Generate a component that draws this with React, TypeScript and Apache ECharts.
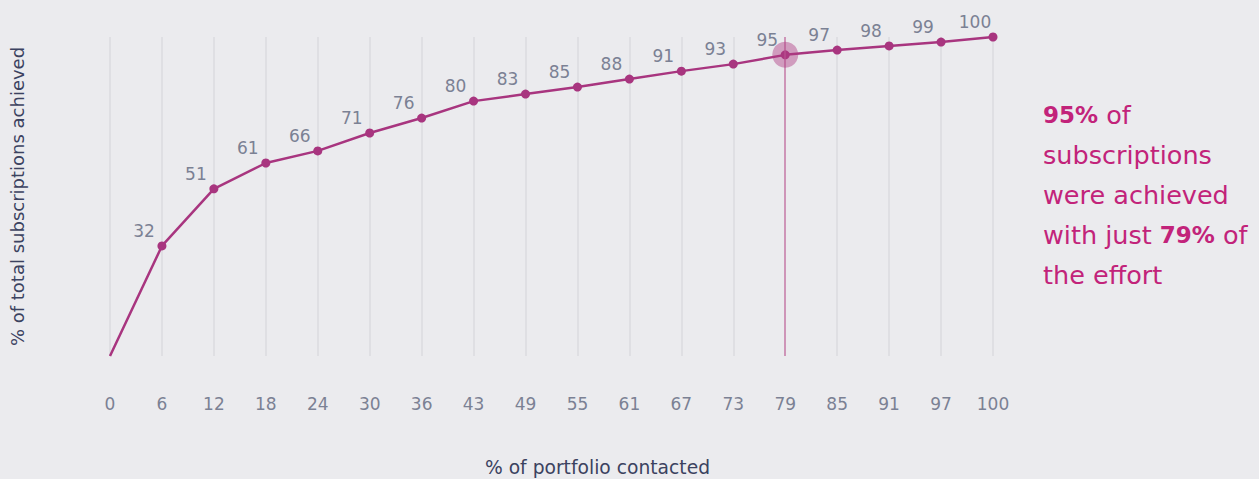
import React, { useEffect, useRef } from "react";
import * as echarts from "echarts";

const categories = ["0", "6", "12", "18", "24", "30", "36", "43", "49", "55", "61", "67", "73", "79", "85", "91", "97", "100"];
const values = [0, 34.5, 52.4, 60.5, 64.3, 69.9, 74.6, 79.9, 82.1, 84.3, 86.8, 89.3, 91.5, 94.4, 95.9, 97.2, 98.4, 100];
const pointLabels = ["", "32", "51", "61", "66", "71", "76", "80", "83", "85", "88", "91", "93", "95", "97", "98", "99", "100"];
const highlightCategory = "79";
const highlightIndex = 13;

const FONT = "'DejaVu Sans', sans-serif";
const LINE = "#a8357f";
const GRAY = "#7b8194";
const DARK = "#3b4260";
const MAGENTA = "#c2237a";

export default function App() {
  const ref = useRef<HTMLDivElement>(null);
  useEffect(() => {
    if (!ref.current) return;
    const chart = echarts.init(ref.current, null, { renderer: "svg" });
    chart.setOption({
      animation: false,
      backgroundColor: "#ebebee",
      textStyle: { fontFamily: FONT },
      grid: { left: 110, right: 266, top: 37, bottom: 123, containLabel: false, outerBoundsMode: "none" },
      xAxis: {
        type: "category",
        data: categories,
        boundaryGap: false,
        axisLine: { show: false },
        axisTick: { show: false },
        axisLabel: { color: GRAY, fontSize: 17, margin: 39, fontFamily: FONT },
        splitLine: { show: true, lineStyle: { color: "#dfdfe3", width: 2 } },
        name: "% of portfolio contacted",
        nameLocation: "middle",
        nameGap: 102,
        nameTextStyle: { color: DARK, fontSize: 18.7, fontFamily: FONT, padding: [0, 0, 0, 92] },
      },
      yAxis: {
        type: "value",
        min: 0,
        max: 100,
        axisLine: { show: false },
        axisTick: { show: false },
        axisLabel: { show: false },
        splitLine: { show: false },
        name: "% of total subscriptions achieved",
        nameLocation: "middle",
        nameGap: 84,
        nameRotate: 90,
        nameTextStyle: { color: DARK, fontSize: 18, fontFamily: FONT },
      },
      series: [
        {
          type: "line",
          data: values.map((v, i) => ({
            value: v,
            symbolSize: i === 0 ? 0 : 9,
            label: { formatter: pointLabels[i] },
          })),
          symbol: "circle",
          lineStyle: { color: LINE, width: 2.5 },
          itemStyle: { color: LINE },
          label: {
            show: true,
            position: "top",
            offset: [-18, 3],
            color: GRAY,
            fontSize: 17,
            fontFamily: FONT,
          },
          markLine: {
            silent: true,
            symbol: "none",
            label: { show: false },
            lineStyle: { color: "rgba(195,100,155,0.6)", width: 2, type: "solid" },
            data: [{ xAxis: highlightCategory }],
          },
          markPoint: {
            silent: true,
            symbol: "circle",
            symbolSize: 26,
            itemStyle: { color: "rgba(175,60,130,0.45)" },
            label: { show: false },
            data: [{ coord: [highlightCategory, values[highlightIndex]] }],
          },
        },
      ],
      graphic: [
        {
          type: "text",
          left: 1043,
          top: 95,
          style: {
            text: "{b|95%}{n| of}\n{n|subscriptions}\n{n|were achieved}\n{n|with just }{b|79%}{n| of}\n{n|the effort}",
            fill: MAGENTA,
            fontFamily: FONT,
            fontSize: 25.5,
            lineHeight: 40,
            rich: {
              b: { fontWeight: "bold", fontSize: 23, fill: MAGENTA, fontFamily: FONT, lineHeight: 40 },
              n: { fontSize: 25.5, fill: MAGENTA, fontFamily: FONT, lineHeight: 40 },
            },
          },
        },
      ],
    });
    return () => chart.dispose();
  }, []);
  return <div ref={ref} style={{ position: "absolute", left: 0, top: 0, width: 1259, height: 479 }} />;
}
